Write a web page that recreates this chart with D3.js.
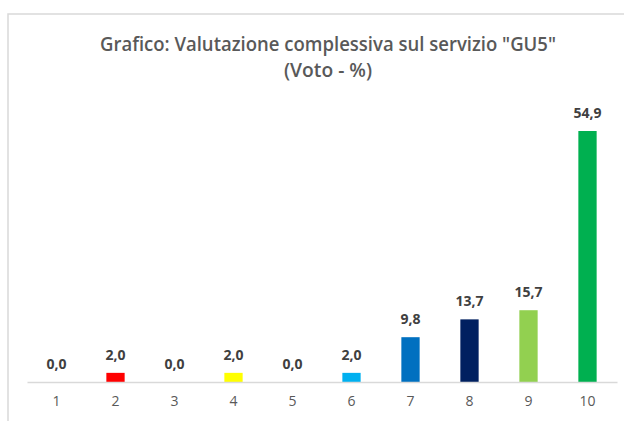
<!DOCTYPE html>
<html><head><meta charset="utf-8">
<script src="https://cdn.jsdelivr.net/npm/d3@7"></script>
<style>html,body{margin:0;padding:0;background:#fff;}svg{display:block;}</style>
</head><body>
<svg id="chart" width="624" height="421"></svg>
<script>
const categories = ["1","2","3","4","5","6","7","8","9","10"];
const values = [0.0, 2.0, 0.0, 2.0, 0.0, 2.0, 9.8, 13.7, 15.7, 54.9];
const colors = ["#FF0000","#FF0000","#FFFF00","#FFFF00","#00B0F0","#00B0F0","#0070C0","#002060","#92D050","#00B050"];
const titleLines = ['Grafico: Valutazione complessiva sul servizio "GU5"', '(Voto - %)'];

const svg = d3.select("#chart");
const font = "'Open Sans',sans-serif";

// chart frame
svg.append("rect").attr("x", 8).attr("y", 14).attr("width", 630).attr("height", 430)
  .attr("fill", "#fff").attr("stroke", "#d9d9d9").attr("stroke-width", 1.5);

// title
const tw = [456, 88];
svg.append("g").selectAll("text").data(titleLines).join("text")
  .attr("x", 328).attr("y", (d, i) => 51 + i * 26)
  .attr("text-anchor", "middle")
  .attr("font-family", font).attr("font-size", 19).attr("font-weight", 600)
  .attr("fill", "#595959")
  .attr("textLength", (d, i) => tw[i]).attr("lengthAdjust", "spacingAndGlyphs")
  .text(d => d);

const x = d3.scaleBand().domain(categories).range([27, 617]).paddingInner(0.69).paddingOuter(0.345);
const y = d3.scaleLinear().domain([0, 54.9]).range([382, 131]);

// bars
svg.append("g").selectAll("rect").data(values).join("rect")
  .attr("x", (d, i) => x(categories[i]))
  .attr("width", x.bandwidth())
  .attr("y", d => y(d))
  .attr("height", d => y(0) - y(d))
  .attr("fill", (d, i) => colors[i]);

// axis
const axis = svg.append("g").attr("transform", "translate(0,382)")
  .call(d3.axisBottom(x).tickSize(0).tickPadding(14));
axis.select(".domain").attr("stroke", "#d9d9d9").attr("stroke-width", 1.5);
axis.selectAll("text").attr("font-family", font).attr("font-size", 14)
  .attr("fill", "#595959");

// value labels
svg.append("g").selectAll("text").data(values).join("text")
  .attr("x", (d, i) => x(categories[i]) + x.bandwidth() / 2)
  .attr("y", d => y(d) - 13)
  .attr("text-anchor", "middle")
  .attr("font-family", font).attr("font-weight", "bold").attr("font-size", 14)
  .attr("fill", "#404040")
  .text(d => d.toFixed(1).replace(".", ","));
</script>
</body></html>
